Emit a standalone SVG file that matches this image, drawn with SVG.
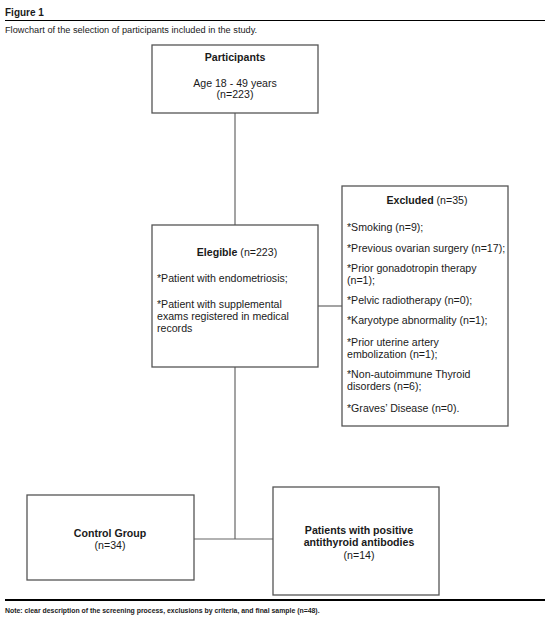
<svg xmlns="http://www.w3.org/2000/svg" width="550" height="622" viewBox="0 0 550 622">
<style>
text{font-family:"Liberation Sans",Arial,sans-serif;fill:#1a1a1a;font-size:10.6px}
.b{font-weight:bold}
.c{text-anchor:middle}
.box{fill:#fff;stroke:#555;stroke-width:1.3}
.ln{stroke:#666;stroke-width:1.2;fill:none}
</style>
<rect width="550" height="622" fill="#fff"/>
<text x="5" y="16" class="b" style="font-size:10px">Figure 1</text>
<line x1="5" y1="20.5" x2="545" y2="20.5" stroke="#000" stroke-width="1"/>
<text x="5" y="33" style="font-size:9.2px">Flowchart of the selection of participants included in the study.</text>
<g id="connectors">
<line class="ln" x1="235" y1="113" x2="235" y2="225"/>
<line class="ln" x1="318" y1="306" x2="342" y2="306"/>
<line class="ln" x1="235" y1="367" x2="235" y2="539"/>
<line class="ln" x1="194" y1="539" x2="273" y2="539"/>
</g>
<g id="participants">
<rect class="box" x="152" y="45" width="166" height="68"/>
<text x="235" y="61" class="c b">Participants</text>
<text x="235" y="87" class="c">Age 18 - 49 years</text>
<text x="235" y="98" class="c">(n=223)</text>
</g>
<g id="elegible">
<rect class="box" x="152" y="225" width="166" height="142"/>
<text x="237" y="256" class="c"><tspan class="b">Elegible</tspan> (n=223)</text>
<text x="157" y="282">*Patient with endometriosis;</text>
<text x="157" y="308">*Patient with supplemental</text>
<text x="157" y="320">exams registered in medical</text>
<text x="157" y="332">records</text>
</g>
<g id="excluded">
<rect class="box" x="342" y="186" width="166" height="240"/>
<text x="427" y="204" class="c"><tspan class="b">Excluded</tspan> (n=35)</text>
<text x="347" y="231">*Smoking (n=9);</text>
<text x="347" y="252">*Previous ovarian surgery (n=17);</text>
<text x="347" y="272">*Prior gonadotropin therapy</text>
<text x="347" y="284">(n=1);</text>
<text x="347" y="304">*Pelvic radiotherapy (n=0);</text>
<text x="347" y="324">*Karyotype abnormality (n=1);</text>
<text x="347" y="346">*Prior uterine artery</text>
<text x="347" y="358">embolization (n=1);</text>
<text x="347" y="378">*Non-autoimmune Thyroid</text>
<text x="347" y="390">disorders (n=6);</text>
<text x="347" y="412">*Graves’ Disease (n=0).</text>
</g>
<g id="control">
<rect class="box" x="27" y="495" width="167" height="85"/>
<text x="110" y="537" class="c b">Control Group</text>
<text x="110" y="549" class="c">(n=34)</text>
</g>
<g id="patients">
<rect class="box" x="273" y="487" width="166" height="108"/>
<text x="359" y="534" class="c b">Patients with positive</text>
<text x="359" y="546" class="c b">antithyroid antibodies</text>
<text x="359" y="559" class="c">(n=14)</text>
</g>
<line x1="5" y1="600" x2="545" y2="600" stroke="#000" stroke-width="1.8"/>
<text x="5" y="613" class="b" style="font-size:6.9px">Note: clear description of the screening process, exclusions by criteria, and final sample (n=48).</text>
</svg>
